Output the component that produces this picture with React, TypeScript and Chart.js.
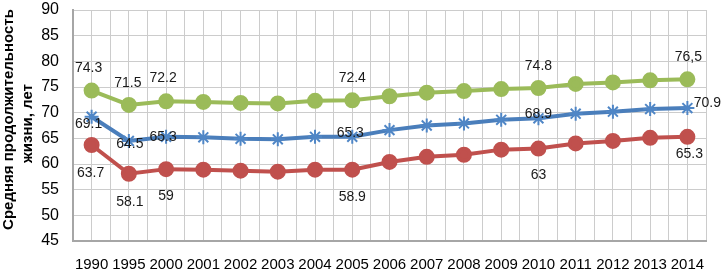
import React, { useEffect, useRef } from "react";
import { Chart, registerables } from "chart.js";

Chart.register(...registerables);

const years = ["1990", "1995", "2000", "2001", "2002", "2003", "2004", "2005", "2006", "2007", "2008", "2009", "2010", "2011", "2012", "2013", "2014"];
const women = [74.3, 71.5, 72.2, 72.1, 71.9, 71.8, 72.3, 72.4, 73.2, 73.9, 74.2, 74.6, 74.8, 75.6, 75.9, 76.3, 76.5];
const total = [69.2, 64.5, 65.3, 65.2, 64.9, 64.8, 65.3, 65.3, 66.6, 67.5, 67.9, 68.6, 68.9, 69.8, 70.2, 70.7, 70.9];
const men = [63.7, 58.1, 59.0, 58.9, 58.7, 58.5, 58.9, 58.9, 60.4, 61.4, 61.8, 62.8, 63.0, 64.0, 64.5, 65.1, 65.3];
const labelIndex = [0, 1, 2, 7, 12, 16];
const womenLabels = ["74.3", "71.5", "72.2", "72.4", "74.8", "76,5"];
const totalLabels = ["69.1", "64.5", "65.3", "65.3", "68.9", "70.9"];
const menLabels = ["63.7", "58.1", "59", "58.9", "63", "65.3"];
const yTitle = ["Средняя продолжительность", "жизни, лет"];

// label offsets (styling) relative to point, per dataset
const labelOffsets = [
  [[-3, -22], [-1, -22], [-3, -23], [0, -22], [0, -22], [1, -22]],
  [[-3, 7], [1, 3], [-3, 0], [-2, -4], [0, -4], [20, -5]],
  [[-1, 28], [1, 28], [0, 27], [0, 27], [0, 27], [2, 17]],
];
const labelTexts = [womenLabels, totalLabels, menLabels];

const FONT = "'Liberation Sans', Arial, sans-serif";

const labelPlugin = {
  id: "customLabels",
  afterDatasetsDraw(chart: any) {
    const ctx = chart.ctx;
    ctx.save();
    ctx.font = `14px ${FONT}`;
    ctx.fillStyle = "#1a1a1a";
    ctx.textAlign = "center";
    ctx.textBaseline = "middle";
    chart.data.datasets.forEach((_: any, di: number) => {
      const meta = chart.getDatasetMeta(di);
      labelIndex.forEach((idx, k) => {
        const pt = meta.data[idx];
        if (!pt) return;
        const [dx, dy] = labelOffsets[di][k];
        ctx.fillText(labelTexts[di][k], pt.x + dx, pt.y + dy);
      });
    });
    ctx.restore();
  },
  afterDraw(chart: any) {
    const ctx = chart.ctx;
    const ca = chart.chartArea;
    const cy = (ca.top + ca.bottom) / 2;
    ctx.save();
    ctx.font = `bold 15px ${FONT}`;
    ctx.fillStyle = "#000";
    ctx.textAlign = "center";
    ctx.textBaseline = "middle";
    const xs = [9, 28];
    const ys = [cy - 6, cy - 2];
    yTitle.forEach((t, i) => {
      ctx.save();
      ctx.translate(xs[i], ys[i]);
      ctx.rotate(-Math.PI / 2);
      ctx.fillText(t, 0, 0);
      ctx.restore();
    });
    ctx.restore();
  },
};

export default function App() {
  const ref = useRef<HTMLCanvasElement>(null);
  useEffect(() => {
    if (!ref.current) return;
    const gridColor = "#cccccc";
    const chart = new Chart(ref.current, {
      type: "line",
      data: {
        labels: years,
        datasets: [
          {
            label: "women",
            data: women,
            borderColor: "#9BBB59",
            backgroundColor: "#9BBB59",
            pointBorderColor: "#9BBB59",
            borderWidth: 4,
            pointRadius: 6,
            pointStyle: "circle",
            tension: 0,
          },
          {
            label: "total",
            data: total,
            borderColor: "#4A7EBB",
            backgroundColor: "#4A7EBB",
            pointBorderColor: "#4F86C6",
            borderWidth: 4,
            pointRadius: 7,
            pointBorderWidth: 2,
            pointStyle: "star",
            tension: 0,
          },
          {
            label: "men",
            data: men,
            borderColor: "#C0504D",
            backgroundColor: "#C0504D",
            pointBorderColor: "#C0504D",
            borderWidth: 4,
            pointRadius: 6,
            pointStyle: "circle",
            tension: 0,
          },
        ],
      },
      options: {
        responsive: false,
        animation: false,
        layout: { padding: { top: 5, right: 18, left: 0, bottom: 0 } },
        plugins: { legend: { display: false }, tooltip: { enabled: false } },
        scales: {
          x: {
            type: "category",
            offset: true,
            grid: { color: gridColor, lineWidth: 1, offset: true, drawTicks: false },
            border: { color: "#a6a6a6", width: 2 },
            ticks: {
              font: { family: FONT, size: 15 },
              color: "#000",
              padding: 15,
              maxRotation: 0,
              autoSkip: false,
            },
            afterFit(s: any) {
              s.height = 30;
              s.paddingLeft = 0;
              s.paddingRight = 0;
            },
          },
          x2: {
            type: "category",
            position: "bottom",
            offset: true,
            grid: { color: gridColor, lineWidth: 1, offset: false, drawTicks: false },
            border: { display: false },
            ticks: { display: false },
            afterFit(s: any) {
              s.height = 0;
              s.paddingLeft = 0;
              s.paddingRight = 0;
            },
          },
          y: {
            min: 45,
            max: 90,
            grid: { color: gridColor, lineWidth: 1, drawTicks: false },
            border: { color: "#a6a6a6", width: 2 },
            ticks: {
              stepSize: 5,
              font: { family: FONT, size: 16 },
              color: "#000",
              padding: 14,
            },
            afterFit(s: any) {
              s.width = 73;
              s.paddingTop = 0;
              s.paddingBottom = 0;
            },
          },
        },
      } as any,
      plugins: [labelPlugin],
    });
    return () => chart.destroy();
  }, []);
  return (
    <div style={{ position: "fixed", left: 0, top: 0, width: 724, height: 271, background: "#fff" }}>
      <canvas ref={ref} width={724} height={271} style={{ width: 724, height: 271 }} />
    </div>
  );
}
